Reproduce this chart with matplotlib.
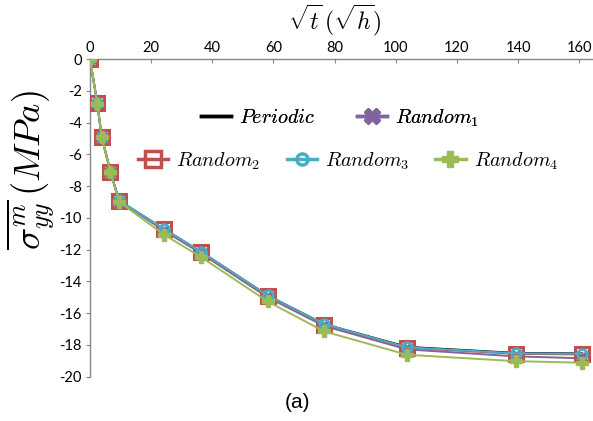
import matplotlib
matplotlib.use("Agg")
import matplotlib.pyplot as plt
from matplotlib.lines import Line2D

plt.rcParams["mathtext.fontset"] = "cm"

x = [0, 2.4, 3.8, 6.7, 9.5, 24.2, 36.2, 58.1, 76.5, 103.7, 139.2, 161.0]
periodic = [0, -2.79, -4.89, -7.09, -8.91, -10.70, -12.12, -14.88, -16.68, -18.12, -18.50, -18.53]
random1 = [0, -2.80, -4.90, -7.10, -8.93, -10.80, -12.22, -15.00, -16.80, -18.28, -18.72, -18.84]
random2 = [0, -2.79, -4.89, -7.09, -8.91, -10.72, -12.15, -14.92, -16.72, -18.18, -18.56, -18.60]
random3 = [0, -2.78, -4.88, -7.08, -8.90, -10.70, -12.12, -14.88, -16.68, -18.15, -18.52, -18.55]
random4 = [0, -2.82, -4.93, -7.13, -8.98, -11.05, -12.45, -15.26, -17.14, -18.62, -19.02, -19.12]

xticks = [0, 20, 40, 60, 80, 100, 120, 140, 160]
yticks = [0, -2, -4, -6, -8, -10, -12, -14, -16, -18, -20]

W, H = 593, 421
fig = plt.figure(figsize=(W / 100, H / 100), dpi=100)
ax = fig.add_axes([90 / W, 1 - 376.7 / H, 1 - 90 / W, (376.7 - 59.2) / H])

c_per = "black"
c1 = "#8064A2"
c2 = "#C0504D"
c3 = "#4BACC6"
c4 = "#9BBB59"

ax.plot(x, periodic, color=c_per, lw=1.4, zorder=3)
ax.plot(x, random1, color=c1, lw=1.4, marker="X", ms=9, mec=c1, mfc=c1, zorder=4)
ax.plot(x, random2, color=c2, lw=1.4, marker="s", ms=9.5, mec=c2, mfc="none", mew=2.2, zorder=5)
ax.plot(x, random3, color=c3, lw=1.4, marker="o", ms=7, mec=c3, mfc="none", mew=2.0, zorder=6)
ax.plot(x, random4, color=c4, lw=1.4, marker="P", ms=9, mec=c4, mfc=c4, zorder=7)

ax.set_xlim(0, 164.5)
ax.set_ylim(-20, 0)
ax.set_xticks(xticks)
ax.set_yticks(yticks)
ax.set_xticklabels([str(v) for v in xticks])
ax.set_yticklabels([str(v) for v in yticks])

ax.xaxis.tick_top()
ax.spines["right"].set_visible(False)
ax.spines["bottom"].set_visible(False)
for s in ("left", "top"):
    ax.spines[s].set_color("#888888")
    ax.spines[s].set_linewidth(1.0)
ax.tick_params(axis="x", direction="in", length=3, color="#888888", labelsize=10.5, pad=3)
ax.tick_params(axis="y", direction="out", length=3, color="#888888", labelsize=10.5, pad=3)
for lab in ax.get_xticklabels() + ax.get_yticklabels():
    lab.set_fontfamily("Lato")

fig.text(335 / W, 1 - 20 / H, r"$\sqrt{t}\,(\sqrt{h})$", fontsize=17, ha="center", va="center")
fig.text(31 / W, 1 - 170 / H, r"$\overline{\sigma^m_{yy}}\,(MPa)$", fontsize=26.5,
         rotation=90, ha="center", va="center")
fig.text(297 / W, 1 - 402 / H, "(a)", fontsize=15, ha="center", va="center",
         family="Liberation Sans")

h_per = Line2D([], [], color=c_per, lw=2.5)
h1 = Line2D([], [], color=c1, lw=2.5, marker="X", ms=11, mec=c1, mfc=c1)
h2 = Line2D([], [], color=c2, lw=2.5, marker="s", ms=11, mec=c2, mfc="none", mew=2.5)
h3 = Line2D([], [], color=c3, lw=2.5, marker="o", ms=8, mec=c3, mfc="none", mew=2.5)
h4 = Line2D([], [], color=c4, lw=2.5, marker="P", ms=11, mec=c4, mfc=c4)

leg1 = fig.legend([h_per, h1], [r"$Periodic$", r"$Random_1$"], ncol=2,
                  loc="center", bbox_to_anchor=(340 / W, 1 - 118 / H), frameon=False,
                  fontsize=14.5, handlelength=1.5, columnspacing=2.1, handletextpad=0.4)
fig.legend([h2, h3, h4], [r"$Random_2$", r"$Random_3$", r"$Random_4$"], ncol=3,
           loc="center", bbox_to_anchor=(348 / W, 1 - 161 / H), frameon=False,
           fontsize=14.5, handlelength=1.5, columnspacing=1.3, handletextpad=0.4)
fig.add_artist(leg1)

fig.savefig("out.png", dpi=100)
